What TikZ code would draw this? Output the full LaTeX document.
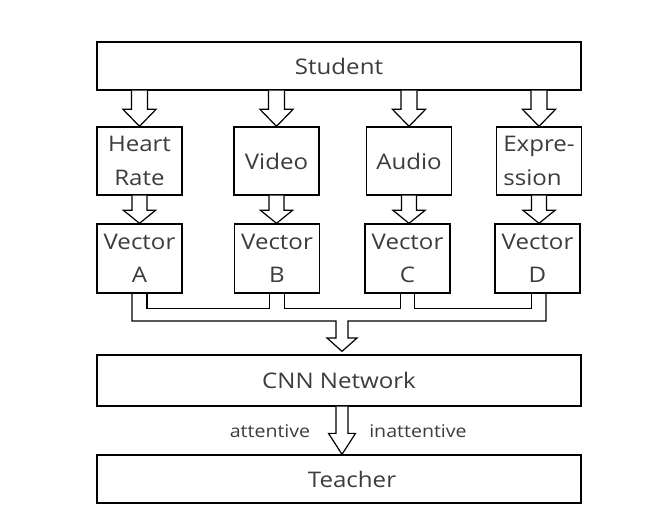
\documentclass[tikz,border=0pt]{standalone}
\usepackage{fontspec}
\setmainfont{Open Sans}[FakeStretch=1.12]
\usetikzlibrary{calc}
\definecolor{txt}{HTML}{3C3C3C}
\newcommand\blockdown[5]{%
  \draw[blk] let \p1=(#1), \p2=(#2) in
    (\x1-#3pt,\y1) -- (\x1-#3pt,\y2+#5pt) -- (\x1-#4pt,\y2+#5pt) -- (\x1,\y2)
    -- (\x1+#4pt,\y2+#5pt) -- (\x1+#3pt,\y2+#5pt) -- (\x1+#3pt,\y1);}
\begin{document}
\begin{tikzpicture}[x=1pt,y=-1pt,
  box/.style={draw=black,line width=1.3pt,fill=white,text=txt,inner sep=0pt,
    font=\fontsize{21.5}{33.5}\selectfont},
  wide/.style={box,minimum width=484pt},
  small/.style={box,minimum width=85pt,minimum height=68pt,align=center},
  blk/.style={draw=black,line width=1.2pt,fill=white,line join=miter},
  wire/.style={draw=black,line width=1.2pt},
  lbl/.style={text=txt,font=\fontsize{17.5}{20}\selectfont}]
\useasboundingbox (0,0) rectangle (669,529);
\node[wide,minimum height=48pt] (student) at (339,66) {Student};
\node[small] (hr) at (139.5,161) {Heart\\Rate};
\node[small] (vid) at (276.5,161) {Video};
\node[small] (aud) at (409,161) {Audio};
\node[small,align=left] (exp) at (539,161) {Expre-\\ssion};
\node[small,minimum height=69pt] (va) at (139.5,258.5) {Vector\\A};
\node[small,minimum height=69pt] (vb) at (277,258.5) {Vector\\B};
\node[small,minimum height=69pt] (vc) at (407.5,258.5) {Vector\\C};
\node[small,minimum height=69pt] (vd) at (537.5,258.5) {Vector\\D};
\node[wide,minimum height=51pt] (cnn) at (339,380.5) {CNN Network};
\node[wide,minimum height=48pt,label={[lbl,font=\fontsize{21.5}{33.5}\selectfont,xshift=13pt]center:Teacher}] (teacher) at (339,479) {};
% block arrows
\blockdown{student.south -| hr.north}{hr.north}{8}{16.5}{17}
\blockdown{student.south -| vid.north}{vid.north}{8}{16.5}{17}
\blockdown{student.south -| aud.north}{aud.north}{8}{16.5}{17}
\blockdown{student.south -| exp.north}{exp.north}{8}{16.5}{17}
\blockdown{hr.south}{va.north}{7.5}{16}{13}
\blockdown{vid.south}{vid.south |- vb.north}{7.5}{16}{13}
\blockdown{aud.south}{aud.south |- vc.north}{7.5}{16}{13}
\blockdown{exp.south}{exp.south |- vd.north}{7.5}{16}{13}
\coordinate (mtip) at ($(cnn.north)+(3,-3)$);
\coordinate (outer) at (0,321);
\coordinate (hb) at (0,338);
\blockdown{cnn.south -| mtip}{teacher.north -| mtip}{6}{13.5}{21}
% inner wires
\draw[wire] ([xshift=7.5]va.south) -- ++(0,15) -| ([xshift=-7.5]vb.south);
\draw[wire] ([xshift=7.5]vb.south) -- ++(0,15) -| ([xshift=-7]vc.south);
\draw[wire] ([xshift=7]vc.south) -- ++(0,15) -| ([xshift=-6]vd.south);
% outer wires merging into arrow
\draw[blk,fill=none] ([xshift=-7.5]va.south) |- ($(outer -| mtip)+(-6,0)$)
  -- ($(hb -| mtip)+(-6,0)$) -- ($(hb -| mtip)+(-15,0)$) -- (mtip)
  -- ($(hb -| mtip)+(15,0)$) -- ($(hb -| mtip)+(6,0)$)
  -- ($(outer -| mtip)+(6,0)$) -| ([xshift=8.5]vd.south);
\node[lbl] (att) at (270,431) {attentive};
\node[lbl] (inatt) at (418,431) {inattentive};
\end{tikzpicture}
\end{document}
